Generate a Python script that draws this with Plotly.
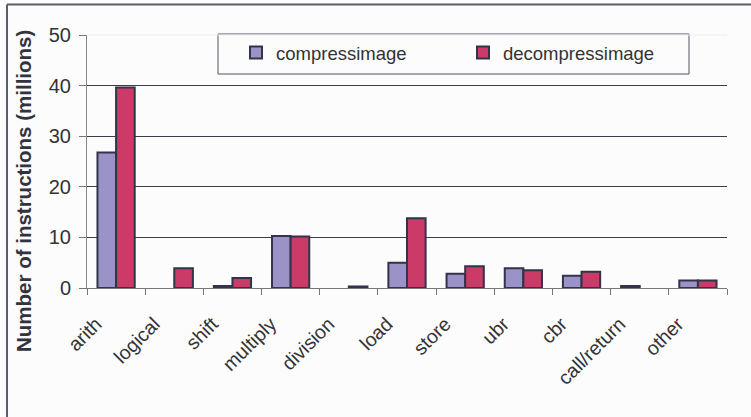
import plotly.graph_objects as go

categories = ["arith", "logical", "shift", "multiply", "division", "load",
              "store", "ubr", "cbr", "call/return", "other"]
compress = [26.8, None, 0.4, 10.3, None, 5.0, 2.8, 3.9, 2.4, 0.4, 1.5]
decompress = [39.6, 3.9, 2.0, 10.2, 0.3, 13.8, 4.3, 3.5, 3.2, None, 1.5]
y_ticks = [0, 10, 20, 30, 40, 50]
grid_ticks = [10, 20, 30, 40]
y_title = "Number of instructions (millions)"

W, H = 751, 417
L, R, T, B = 87, 24, 35, 129
pw, ph = W - L - R, H - T - B

def px_x(x):
    return (x - L) / pw

def px_y(y):
    return (H - B - y) / ph

fig = go.Figure()
fig.add_trace(go.Bar(x=categories, y=compress, name="compressimage",
                     marker=dict(color="#9b93c8", line=dict(color="#33334a", width=2))))
fig.add_trace(go.Bar(x=categories, y=decompress, name="decompressimage",
                     marker=dict(color="#cc3a68", line=dict(color="#33334a", width=2))))
# invisible trace for gridline axis
fig.add_trace(go.Scatter(x=categories, y=[None]*len(categories), yaxis="y2",
                         showlegend=False, hoverinfo="skip"))

fig.update_layout(
    width=W, height=H,
    margin=dict(l=L, r=R, t=T, b=B),
    paper_bgcolor="#fcfcfc", plot_bgcolor="#fcfcfc",
    barmode="group", bargap=0.36, bargroupgap=0.0,
    font=dict(family="Liberation Sans, Arial, sans-serif", color="#333333"),
    xaxis=dict(type="category", range=[-0.5, len(categories) - 0.5],
               tickson="boundaries", ticks="outside", ticklen=6,
               tickcolor="#777777", showline=True, linecolor="#777777", linewidth=1,
               tickangle=-45, tickfont=dict(size=19.5, color="#333333"), showgrid=False,
               ticklabelstandoff=16, ticklabelshift=-20),
    yaxis=dict(range=[0, 50], tickvals=y_ticks, ticks="outside", ticklen=7,
               tickcolor="#777777", showline=True, linecolor="#888888", linewidth=1,
               showgrid=False, zeroline=False, tickfont=dict(size=20, color="#333333"),
               ticklabelstandoff=4),
    yaxis2=dict(range=[0, 50], overlaying="y", tickvals=grid_ticks, showticklabels=False,
                showgrid=True, gridcolor="#3c3c4c", gridwidth=1, zeroline=False,
                showline=False, ticks=""),
    legend=dict(orientation="h", x=px_x(236), y=px_y(34), xanchor="left", yanchor="top",
                bgcolor="rgba(0,0,0,0)", borderwidth=0, entrywidth=182,
                font=dict(size=18.5, color="#333333"), traceorder="normal"),
    annotations=[
        dict(text="<b>" + y_title + "</b>", textangle=-90, xref="paper", yref="paper",
             x=px_x(23), y=px_y(191), xanchor="center", yanchor="middle",
             showarrow=False, font=dict(size=20.5, color="#333340")),
    ],
    shapes=[
        # legend box
        dict(type="rect", xref="paper", yref="paper",
             x0=px_x(218), x1=px_x(689), y0=px_y(74), y1=px_y(34),
             line=dict(color="#555560", width=1), fillcolor="#fcfcfc", layer="below"),
        # top gridline at 50 (faint)
        dict(type="line", xref="paper", yref="paper", x0=0, x1=1, y0=1, y1=1,
             line=dict(color="#eeeeee", width=1), layer="below"),
        # outer frame top/left
        dict(type="line", xref="paper", yref="paper", x0=px_x(7), x1=px_x(751),
             y0=px_y(4.5), y1=px_y(4.5), line=dict(color="#5a5f6a", width=2)),
        dict(type="line", xref="paper", yref="paper", x0=px_x(7), x1=px_x(7),
             y0=px_y(4.5), y1=px_y(417), line=dict(color="#5a5f6a", width=2)),
    ],
)

fig.write_html("out.html")
